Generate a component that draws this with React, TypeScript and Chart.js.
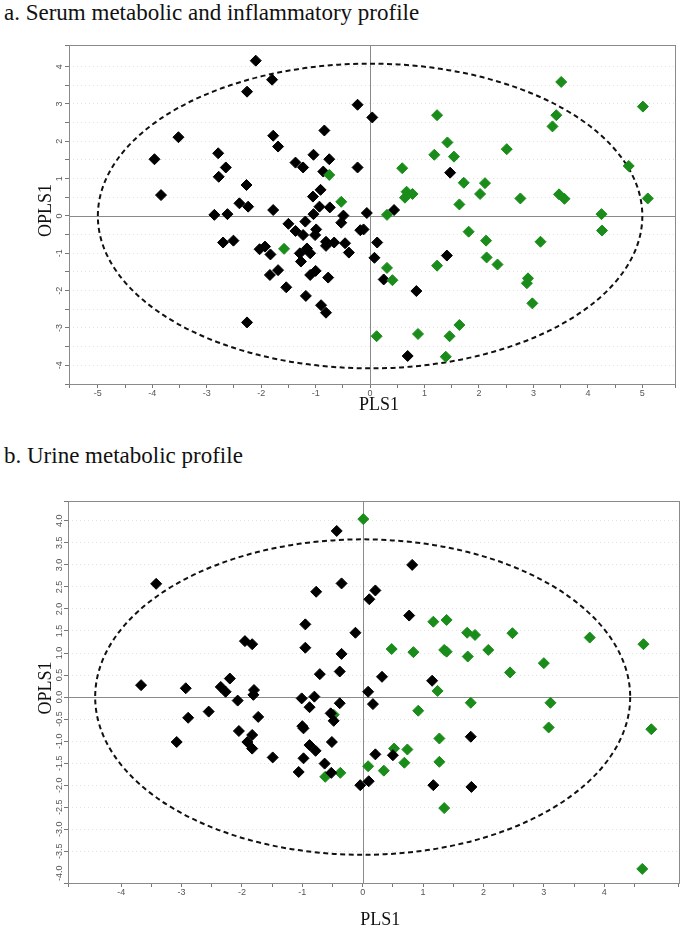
import { useEffect, useRef } from 'react';
import { Chart, registerables } from 'chart.js';

Chart.register(...registerables);

// ---------- Data: panel a (serum) ----------
const serumTitle = 'a. Serum metabolic and inflammatory profile';
const serumXTicks = [-5, -4, -3, -2, -1, 0, 1, 2, 3, 4, 5];
const serumYTicks = [-4, -3, -2, -1, 0, 1, 2, 3, 4];
const serumXRange = [-5.53, 5.6];
const serumYRange = [-4.5, 4.58];
const serumEllipse = [5.0, 4.08];
const serumBlack: [number, number][] = [
  [-2.1, 4.16], [-2.26, 3.33], [-1.8, 3.65], [-3.52, 2.11], [-3.96, 1.52], [-3.84, 0.56],
  [-2.79, 1.68], [-2.65, 1.3], [-2.78, 1.05], [-2.27, 0.83], [-2.4, 0.34], [-2.24, 0.25],
  [-2.86, 0.03], [-2.62, 0.05], [-1.78, 2.15], [-1.69, 1.86], [-1.78, 0.16], [-1.37, 1.43],
  [-1.23, 1.3], [-1.04, 1.64], [-0.84, 2.29], [-0.75, 1.52], [-0.86, 1.19], [-0.91, 0.7],
  [-1.05, 0.52], [-0.93, 0.25], [-0.74, 0.23], [-0.23, 2.98], [-0.23, 1.3], [-0.49, 0.01],
  [-1.04, 0.05], [0.04, 2.64], [1.47, 1.16], [0.44, 0.16], [-0.06, 0.08], [-2.7, -0.71],
  [-2.51, -0.66], [-1.5, -0.21], [-1.37, -0.4], [-1.23, -0.51], [-1.19, -0.15], [-0.99, -0.36],
  [-1.01, -0.51], [-0.53, -0.18], [-2.03, -0.89], [-1.93, -0.82], [-1.83, -1.03], [-1.16, -0.87],
  [-1.29, -1.0], [-1.1, -1.0], [-1.27, -1.22], [-0.81, -0.69], [-0.66, -0.71], [-0.46, -0.73],
  [-0.81, -0.8], [-0.39, -0.98], [-1.84, -1.58], [-1.69, -1.45], [-1.54, -1.91], [-1.1, -1.58],
  [-1.0, -1.47], [-0.77, -1.65], [-1.18, -2.14], [-0.9, -2.39], [-0.81, -2.59], [-2.26, -2.85],
  [-0.18, -0.38], [-0.12, -0.36], [0.13, -0.71], [0.08, -1.12], [0.25, -1.7], [1.41, -1.06],
  [0.85, -2.01], [0.69, -3.75],
];
const serumGreen: [number, number][] = [
  [-0.75, 1.1], [-0.53, 0.38], [-1.58, -0.88], [3.51, 3.59], [5.01, 2.93], [1.23, 2.7],
  [3.42, 2.7], [3.35, 2.4], [1.42, 1.97], [2.51, 1.79], [1.18, 1.64], [1.54, 1.59],
  [0.59, 1.28], [4.75, 1.34], [1.72, 0.89], [2.11, 0.88], [2.02, 0.59], [0.67, 0.65],
  [0.78, 0.59], [0.64, 0.49], [2.76, 0.47], [3.47, 0.58], [3.57, 0.46], [1.64, 0.31],
  [5.1, 0.47], [0.31, 0.03], [4.25, 0.05], [4.26, -0.39], [1.81, -0.42], [2.13, -0.66],
  [3.13, -0.69], [2.14, -1.11], [2.34, -1.3], [1.23, -1.33], [0.31, -1.39], [0.41, -1.72],
  [2.9, -1.67], [2.88, -1.8], [2.98, -2.34], [1.64, -2.92], [0.12, -3.22], [0.88, -3.16],
  [1.46, -3.22], [1.39, -3.77],
];

// ---------- Data: panel b (urine) ----------
const urineTitle = 'b. Urine metabolic profile';
const urineXTicks = [-4, -3, -2, -1, 0, 1, 2, 3, 4, 5];
const urineYTicks = [-4, -3.5, -3, -2.5, -2, -1.5, -1, -0.5, 0, 0.5, 1, 1.5, 2, 2.5, 3, 3.5, 4];
const urineXRange = [-4.88, 5.23];
const urineYRange = [-4.22, 4.45];
const urineEllipse = [4.43, 3.58];
const urineBlack: [number, number][] = [
  [-3.42, 2.57], [-0.43, 3.77], [-0.35, 2.58], [-0.77, 2.39], [-0.95, 1.65], [-1.95, 1.27],
  [-1.83, 1.2], [-0.95, 1.12], [-0.35, 0.98], [-0.12, 1.46], [0.82, 3.0], [0.21, 2.42],
  [0.11, 2.22], [0.77, 1.85], [-0.38, 0.58], [0.32, 0.46], [1.15, 0.37], [0.09, 0.12],
  [0.17, -0.16], [-0.38, -0.14], [1.79, -0.9], [0.21, -1.3], [0.5, -1.32], [-0.04, -2.0],
  [0.1, -1.91], [1.17, -2.0], [1.8, -2.04], [-3.67, 0.27], [-2.93, 0.2], [-2.89, -0.47],
  [-2.55, -0.33], [-3.08, -1.02], [-2.35, 0.23], [-2.2, 0.42], [-2.27, 0.12], [-2.07, -0.08],
  [-1.8, 0.16], [-1.81, 0.05], [-1.73, -0.45], [-2.05, -0.77], [-1.83, -0.86], [-1.91, -1.02],
  [-1.83, -1.17], [-1.49, -1.37], [-0.71, 0.52], [-1.01, -0.03], [-0.8, 0.01], [-0.88, -0.23],
  [-0.53, -0.37], [-0.48, -0.54], [-1.0, -0.66], [-0.98, -0.71], [-0.51, -1.02], [-0.88, -1.09],
  [-0.78, -1.22], [-0.98, -1.39], [-0.63, -1.51], [-1.06, -1.7], [-0.52, -1.72],
];
const urineGreen: [number, number][] = [
  [0.01, 4.04], [1.17, 1.71], [1.39, 1.75], [1.73, 1.46], [1.86, 1.41], [2.48, 1.45],
  [3.76, 1.35], [4.65, 1.2], [0.48, 1.09], [0.84, 1.02], [1.35, 1.07], [1.39, 1.03],
  [2.08, 1.07], [1.74, 0.92], [3.0, 0.77], [2.44, 0.56], [1.24, 0.14], [1.79, -0.13],
  [3.11, -0.13], [0.92, -0.31], [3.08, -0.69], [4.78, -0.73], [1.27, -0.94], [0.52, -1.17],
  [0.74, -1.19], [0.69, -1.49], [1.27, -1.47], [0.09, -1.57], [0.35, -1.67], [1.35, -2.52],
  [-0.37, -1.72], [-0.62, -1.81], [-0.48, -0.4], [4.63, -3.9],
];

const xAxisTitle = 'PLS1';
const yAxisTitle = 'OPLS1';

const BLACK = '#000000';
const GREEN = '#1a8c1a';
const TICK_FONT = 'Arial, "Liberation Sans", sans-serif';
const SERIF = '"Liberation Serif", "Times New Roman", serif';

const framePlugin = {
  id: 'frame',
  beforeDatasetsDraw(chart: any, _args: any, opts: any) {
    const { ctx, chartArea, scales } = chart;
    const { left, right, top, bottom } = chartArea;
    const x = scales.x;
    const y = scales.y;
    ctx.save();
    ctx.strokeStyle = '#8a8a8a';
    ctx.lineWidth = 1;
    const x0 = Math.round(x.getPixelForValue(0)) + 0.5;
    const y0 = Math.round(y.getPixelForValue(0)) + 0.5;
    ctx.beginPath();
    ctx.moveTo(x0, top);
    ctx.lineTo(x0, bottom);
    ctx.moveTo(left, y0);
    ctx.lineTo(right, y0);
    ctx.stroke();
    const cx = x.getPixelForValue(0);
    const cy = y.getPixelForValue(0);
    const rx = x.getPixelForValue(opts.ellipse[0]) - cx;
    const ry = cy - y.getPixelForValue(opts.ellipse[1]);
    ctx.setLineDash([5, 3.5]);
    ctx.lineWidth = 2;
    ctx.strokeStyle = '#111111';
    ctx.beginPath();
    ctx.ellipse(cx, cy, rx, ry, 0, 0, Math.PI * 2);
    ctx.stroke();
    ctx.restore();
  },
  afterDraw(chart: any, _args: any, opts: any) {
    const { ctx, chartArea, scales } = chart;
    const { left, right, top, bottom } = chartArea;
    const y = scales.y;
    ctx.save();
    ctx.strokeStyle = '#8a8a8a';
    ctx.lineWidth = 1;
    ctx.strokeRect(Math.round(left) + 0.5, Math.round(top) + 0.5, Math.round(right - left), Math.round(bottom - top));
    // rotated y tick labels
    ctx.fillStyle = '#555555';
    ctx.font = `9px ${TICK_FONT}`;
    ctx.textAlign = 'center';
    ctx.textBaseline = 'middle';
    for (const v of opts.yTicks as number[]) {
      const py = y.getPixelForValue(v);
      ctx.save();
      ctx.translate(opts.yLabelX, py);
      ctx.rotate(-Math.PI / 2);
      ctx.fillText(v.toFixed(opts.yDecimals), 0, 0);
      ctx.restore();
    }
    // axis titles
    ctx.fillStyle = '#111111';
    ctx.font = `18px ${SERIF}`;
    ctx.save();
    ctx.translate(opts.yTitleX, (top + bottom) / 2 + opts.yTitleShift);
    ctx.rotate(-Math.PI / 2);
    ctx.fillText(yAxisTitle, 0, 0);
    ctx.restore();
    ctx.fillText(xAxisTitle, (left + right) / 2 + opts.xTitleShift, bottom + opts.xTitleDy);
    ctx.restore();
  },
};

type PanelProps = {
  black: [number, number][];
  green: [number, number][];
  xRange: number[];
  yRange: number[];
  xTicks: number[];
  yTicks: number[];
  yDecimals: number;
  ellipse: number[];
  top: number;
  height: number;
  areaTop: number;
  areaBottom: number;
  areaLeft: number;
  areaRight: number;
  xTitleDy: number;
  blackOnTop: boolean;
};

function Panel(p: PanelProps) {
  const ref = useRef<HTMLCanvasElement | null>(null);
  useEffect(() => {
    if (!ref.current) return;
    const W = 685;
    const toPts = (arr: [number, number][]) => arr.map(([x, y]) => ({ x, y }));
    const chart = new Chart(ref.current, {
      type: 'scatter',
      data: {
        datasets: [
          {
            label: 'black',
            data: toPts(p.black),
            pointStyle: 'rectRot',
            pointRadius: 5.5,
            pointBorderWidth: 1,
            backgroundColor: BLACK,
            borderColor: BLACK,
            order: p.blackOnTop ? 0 : 1,
          },
          {
            label: 'green',
            data: toPts(p.green),
            pointStyle: 'rectRot',
            pointRadius: 5.5,
            pointBorderWidth: 1,
            backgroundColor: GREEN,
            borderColor: GREEN,
            order: p.blackOnTop ? 1 : 0,
          },
        ],
      },
      options: {
        responsive: false,
        animation: false,
        events: [],
        layout: {
          padding: {
            top: p.areaTop - p.top,
            right: W - p.areaRight,
            left: 0,
            bottom: 0,
          },
        },
        plugins: {
          legend: { display: false },
          tooltip: { enabled: false },
          frame: {
            ellipse: p.ellipse,
            yTicks: p.yTicks,
            yDecimals: p.yDecimals,
            yLabelX: 60,
            yTitleX: 46,
            yTitleShift: -4,
            xTitleShift: 7,
            xTitleDy: p.xTitleDy,
          },
        } as any,
        scales: {
          x: {
            type: 'linear',
            min: p.xRange[0],
            max: p.xRange[1],
            afterFit: (s: any) => {
              s.height = p.top + p.height - p.areaBottom;
            },
            border: { display: false },
            grid: {
              drawOnChartArea: false,
              drawTicks: true,
              tickLength: 4,
              tickColor: '#777777',
            },
            ticks: {
              stepSize: 0.5,
              autoSkip: false,
              maxRotation: 0,
              minRotation: 0,
              padding: 0,
              color: '#555555',
              font: { family: TICK_FONT, size: 9 },
              callback: (v: any) => (p.xTicks.includes(Number(v)) ? String(v) : ''),
            },
          },
          y: {
            type: 'linear',
            min: p.yRange[0],
            max: p.yRange[1],
            afterFit: (s: any) => {
              s.width = p.areaLeft;
            },
            border: { display: false, dash: [1, 3] },
            grid: {
              drawOnChartArea: true,
              drawTicks: true,
              tickLength: 4,
              tickColor: '#777777',
              color: (c: any) => {
                const v = c.tick ? c.tick.value : NaN;
                if (Math.abs(v) < 1e-9) return 'rgba(0,0,0,0)';
                if (Math.abs(v * 2 - Math.round(v * 2)) > 1e-6) return 'rgba(0,0,0,0)';
                return '#e2e2e2';
              },
            },
            ticks: {
              display: false,
              stepSize: 0.5,
              autoSkip: false,
            },
          },
        },
      },
      plugins: [framePlugin],
    } as any);
    return () => chart.destroy();
  }, []);
  return (
    <canvas
      ref={ref}
      width={685}
      height={p.height}
      style={{ position: 'absolute', left: 0, top: p.top, width: 685, height: p.height }}
    />
  );
}

export default function App() {
  const titleStyle = (top: number): any => ({
    position: 'absolute',
    left: 4,
    top,
    fontFamily: SERIF,
    fontSize: 23,
    lineHeight: '26px',
    color: '#111',
    whiteSpace: 'nowrap',
  });
  return (
    <div style={{ position: 'absolute', left: 0, top: 0, width: 685, height: 930, background: '#fff', overflow: 'hidden' }}>
      <div style={titleStyle(0)}>{serumTitle}</div>
      <Panel
        black={serumBlack}
        green={serumGreen}
        xRange={serumXRange}
        yRange={serumYRange}
        xTicks={serumXTicks}
        yTicks={serumYTicks}
        yDecimals={0}
        ellipse={serumEllipse}
        top={30}
        height={390}
        areaTop={45}
        areaBottom={384}
        areaLeft={69}
        areaRight={675}
        xTitleDy={21}
        blackOnTop={false}
      />
      <div style={titleStyle(443)}>{urineTitle}</div>
      <Panel
        black={urineBlack}
        green={urineGreen}
        xRange={urineXRange}
        yRange={urineYRange}
        xTicks={urineXTicks}
        yTicks={urineYTicks}
        yDecimals={1}
        ellipse={urineEllipse}
        top={480}
        height={450}
        areaTop={501}
        areaBottom={883}
        areaLeft={68}
        areaRight={680}
        xTitleDy={37}
        blackOnTop={true}
      />
    </div>
  );
}
